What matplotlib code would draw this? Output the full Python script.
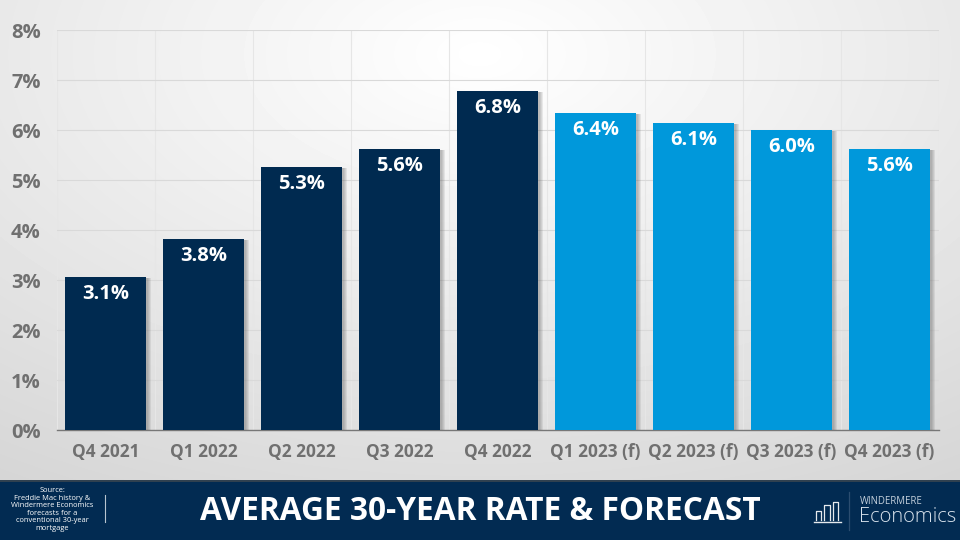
import numpy as np
import matplotlib
matplotlib.use('Agg')
import matplotlib.pyplot as plt
import matplotlib.patheffects as pe
from matplotlib.patches import Rectangle

plt.rcParams['font.family'] = ['Open Sans', 'DejaVu Sans']

quarters = ['Q4 2021', 'Q1 2022', 'Q2 2022', 'Q3 2022', 'Q4 2022',
            'Q1 2023 (f)', 'Q2 2023 (f)', 'Q3 2023 (f)', 'Q4 2023 (f)']
rates = [3.06, 3.82, 5.26, 5.62, 6.78, 6.34, 6.14, 6.00, 5.62]
rate_labels = ['3.1%', '3.8%', '5.3%', '5.6%', '6.8%', '6.4%', '6.1%', '6.0%', '5.6%']
bar_colors = ['#002a50'] * 5 + ['#0098db'] * 4
y_ticks = [0, 1, 2, 3, 4, 5, 6, 7, 8]

W, H = 960, 540
NAVY = '#022b52'
GREY = '#707070'

fig = plt.figure(figsize=(W / 100, H / 100), dpi=100)

# background gradient, white in the upper middle, grey towards the corners
bg = fig.add_axes([0, 0, 1, 1], zorder=0)
xx, yy = np.meshgrid(np.linspace(0, 1, W), np.linspace(0, 1, H))
dist = np.sqrt((xx - 0.5) ** 2 + (yy - 0.1) ** 2)
bg.imshow(1 - 0.18 * np.clip(dist / 1.03, 0, 1), cmap='gray', vmin=0, vmax=1,
          aspect='auto', extent=[0, W, H, 0])
bg.set_axis_off()

# plot area in pixels: x 56.5-938.5, y 30-430
ax = fig.add_axes([56.5 / W, (H - 430) / H, 882 / W, 400 / H], zorder=1)
ax.patch.set_alpha(0)
x = np.arange(len(quarters))
bars = ax.bar(x, rates, width=0.83, color=bar_colors, zorder=3)
# soft shadow on the right of each bar, stacked to fake a blur
shadow = [pe.SimplePatchShadow(offset=(n, -1), shadow_rgbFace='#555555', alpha=0.11)
          for n in (3.6, 2.8, 2.0, 1.2)]
for b in bars:
    b.set_path_effects(shadow + [pe.Normal()])
for i, lab in enumerate(rate_labels):
    ax.annotate(lab, (x[i], rates[i]), xytext=(0, -12), textcoords='offset points',
                ha='center', va='center', color='white', fontsize=14.5,
                fontweight='bold', zorder=4)

ax.set_xlim(-0.5, len(quarters) - 0.5)
ax.set_ylim(0, 8)
ax.set_yticks(y_ticks)
ax.set_yticklabels([f'{t}%' for t in y_ticks])
ax.set_xticks(x)
ax.set_xticklabels(quarters)
ax.set_xticks(np.arange(len(quarters) + 1) - 0.5, minor=True)
ax.grid(axis='y', color='#d9d9d9', lw=0.8, zorder=0)
ax.grid(axis='x', which='minor', color='#e6e6e6', lw=0.8, zorder=0)
ax.tick_params(axis='both', which='both', length=0)
ax.tick_params(axis='y', labelsize=14.5, labelcolor=GREY, pad=11.5)
ax.tick_params(axis='x', labelsize=12.4, labelcolor=GREY, pad=9)
for lab in ax.get_xticklabels() + ax.get_yticklabels():
    lab.set_fontweight('bold')
for s in ['top', 'right', 'left']:
    ax.spines[s].set_visible(False)
ax.spines['bottom'].set_color('#777777')
ax.spines['bottom'].set_linewidth(1)

# footer band and logo, drawn in pixel coordinates
ft = fig.add_axes([0, 0, 1, 1], zorder=2)
ft.set_xlim(0, W)
ft.set_ylim(H, 0)
ft.set_axis_off()
ft.patch.set_alpha(0)
ft.add_patch(Rectangle((0, 480), W, 60, color=NAVY, lw=0))
ft.plot([0, W], [480.5, 480.5], color='#3a4650', lw=1.2)
ft.text(52, 509.5, 'Source:\nFreddie Mac history &\nWindermere Economics\nforecasts for a\nconventional 30-year\nmortgage',
        color='white', fontsize=5.4, ha='center', va='center', linespacing=1.1)
ft.plot([104.5, 104.5], [495, 522], color='#b8c4d0', lw=0.8)
ft.text(480.5, 511.5, 'AVERAGE 30-YEAR RATE & FORECAST', color='white', fontsize=22.8,
        fontweight='bold', ha='center', va='center')

# logo bars
for bx, top in [(815.5, 511), (824, 505), (832.5, 502)]:
    ft.plot([bx, bx, bx + 5.5, bx + 5.5], [520, top, top, 520], color='white', lw=0.9, alpha=0.9)
ft.plot([814, 841], [522, 522], color='white', lw=1, alpha=0.9)
ft.plot([849, 849], [492, 530], color='#2b4d70', lw=0.9)
ft.text(860, 502, 'WINDERMERE', color='#c4d0dc', fontsize=6.9, ha='left', va='center')
ft.text(859, 517, 'Economics', color='#d8e2ec', fontsize=14.5, ha='left', va='center',
        fontweight='light')

fig.savefig('out.png', dpi=100)
